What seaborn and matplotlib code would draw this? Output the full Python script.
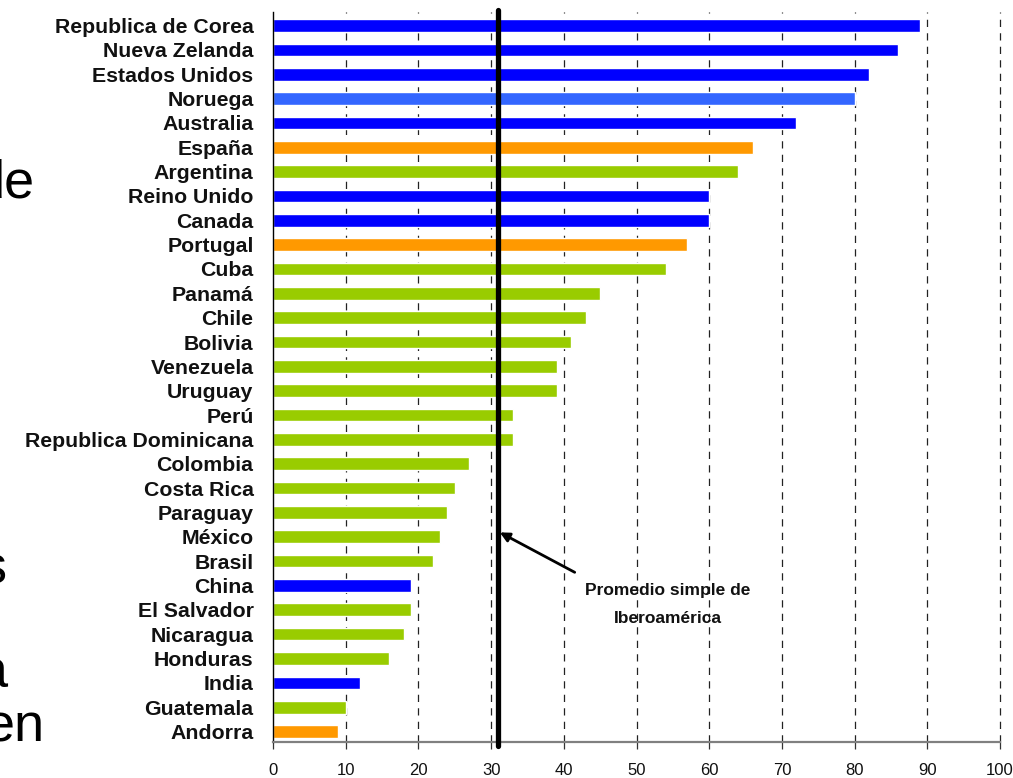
import matplotlib
matplotlib.use("Agg")
import matplotlib.pyplot as plt
from matplotlib import font_manager
import seaborn as sns
import pandas as pd

countries = ["Republica de Corea", "Nueva Zelanda", "Estados Unidos", "Noruega", "Australia",
             "España", "Argentina", "Reino Unido", "Canada", "Portugal", "Cuba", "Panamá",
             "Chile", "Bolivia", "Venezuela", "Uruguay", "Perú", "Republica Dominicana",
             "Colombia", "Costa Rica", "Paraguay", "México", "Brasil", "China", "El Salvador",
             "Nicaragua", "Honduras", "India", "Guatemala", "Andorra"]
values = [89, 86, 82, 80, 72, 66, 64, 60, 60, 57, 54, 45, 43, 41, 39, 39, 33, 33,
          27, 25, 24, 23, 22, 19, 19, 18, 16, 12, 10, 9]
groups = ["ocde", "ocde", "ocde", "noruega", "ocde", "iberica", "latam", "ocde", "ocde",
          "iberica", "latam", "latam", "latam", "latam", "latam", "latam", "latam", "latam",
          "latam", "latam", "latam", "latam", "latam", "ocde", "latam", "latam", "latam",
          "ocde", "latam", "iberica"]
group_colors = {"ocde": "#0000FF", "noruega": "#3366FF", "iberica": "#FF9900", "latam": "#99CC00"}
mean_value = 31
x_ticks = [0, 10, 20, 30, 40, 50, 60, 70, 80, 90, 100]
annotation_lines = ["Promedio simple de", "Iberoamérica"]
side_words = ["de", "s", "a", "en"]

sns.set_style("white")
plt.rcParams["font.family"] = ["Liberation Sans", "DejaVu Sans"]

avail = {f.name for f in font_manager.fontManager.ttflist}
narrow = "Liberation Sans Narrow" in avail

W, H = 1013, 778
fig = plt.figure(figsize=(W / 100, H / 100), dpi=100)
ax = fig.add_axes([273 / W, 1 - 742 / H, 727 / W, 730 / H])

df = pd.DataFrame({"country": countries, "value": values, "group": groups})
palette = [group_colors[g] for g in groups]
sns.barplot(data=df, x="value", y="country", hue="country", palette=palette,
            legend=False, orient="h", width=0.52, dodge=False, saturation=1, ax=ax, zorder=2)

n = len(countries)
ax.set_xlim(0, 100)
ax.set_ylim(n - 1 + 0.43, -0.555)
ax.set_xlabel("")
ax.set_ylabel("")

for t in x_ticks[1:]:
    ax.axvline(t, color="#222222", lw=0.9, linestyle=(0, (5.8, 5.0)), zorder=1, clip_on=False)

ax.axvline(mean_value, ymin=-0.005, ymax=1.003, color="black", lw=3.8, zorder=4, clip_on=False)

for s in ["top", "right"]:
    ax.spines[s].set_visible(False)
ax.spines["left"].set_color("black")
ax.spines["left"].set_linewidth(1.0)
ax.spines["bottom"].set_color("#808080")
ax.spines["bottom"].set_linewidth(1.6)
ax.spines["bottom"].set_zorder(3)

ax.set_xticks(x_ticks)
ax.set_xticklabels([str(t) for t in x_ticks])
ax.tick_params(axis="x", direction="out", length=5, width=0.9, color="#333333",
               pad=10, bottom=True)
ax.tick_params(axis="y", length=0, pad=14)
for lab in ax.get_xticklabels():
    if narrow:
        lab.set_family(["Liberation Sans Narrow", "Liberation Sans"])
        lab.set_fontsize(13)
    else:
        lab.set_fontsize(12)
    lab.set_color("#111111")
for lab in ax.get_yticklabels():
    lab.set_fontsize(15.3)
    lab.set_fontweight("bold")
    lab.set_color("#111111")

ax.annotate("", xy=(31.2, 20.82), xytext=(41.5, 22.46),
            arrowprops=dict(arrowstyle="-|>", color="black", lw=2.0,
                            mutation_scale=14, shrinkA=0, shrinkB=0), zorder=5)
ax.text(54.3, 23.2, annotation_lines[0], ha="center", va="center",
        fontsize=12.5, fontweight="bold", color="#111111", zorder=5)
ax.text(54.3, 24.35, annotation_lines[1], ha="center", va="center",
        fontsize=12.5, fontweight="bold", color="#111111", zorder=5)

side_pos = [(35, 198), (7, 583), (8, 688), (45, 742)]
for word, (px, py) in zip(side_words, side_pos):
    fig.text(px / W, 1 - py / H, word, ha="right", va="baseline",
             fontsize=39, color="black")

fig.savefig("out.png", dpi=100)
